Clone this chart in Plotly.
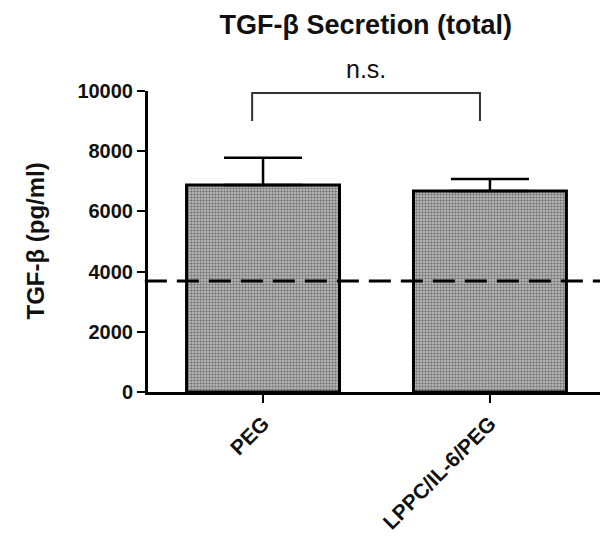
import plotly.graph_objects as go

categories = ["PEG", "LPPC/IL-6/PEG"]
means = [6880, 6680]
sd_upper = [900, 400]
baseline = 3690
y_ticks = [0, 2000, 4000, 6000, 8000, 10000]
sig_label = "n.s."

FONT = "Liberation Sans, Arial, sans-serif"
xpos = list(range(len(categories)))

fig = go.Figure()
fig.add_trace(go.Bar(
    x=xpos, y=means, width=0.674,
    marker=dict(
        color="#a8a8a8",
        line=dict(color="black", width=3),
        pattern=dict(shape=".", fgcolor="#2e2e2e", bgcolor="#c2c2c2", size=3, solidity=0.5),
    ),
    error_y=dict(type="data", symmetric=False, array=sd_upper, arrayminus=[0] * len(means),
                 color="black", thickness=2.5, width=39),
    showlegend=False,
))

fig.add_shape(type="line", xref="paper", yref="y", x0=-0.007, x1=1.0, y0=baseline, y1=baseline,
              line=dict(color="black", width=3, dash="22px,10px"), layer="above")

# significance bracket
bx0, bx1 = -0.048, 0.956
fig.add_shape(type="path", xref="x", yref="paper",
              path=f"M {bx0} 0.9003 L {bx0} 0.9934 L {bx1} 0.9934 L {bx1} 0.9003",
              line=dict(color="#333333", width=2))
fig.add_annotation(x=(bx0 + bx1) / 2, xref="x", y=1.073, yref="paper", text=sig_label,
                   showarrow=False, font=dict(family=FONT, size=25, color="#111"),
                   xanchor="center", yanchor="middle")

fig.add_annotation(x=-0.25, xref="paper", y=0.5, yref="paper", text="<b>TGF-β (pg/ml)</b>",
                   textangle=-90, showarrow=False, font=dict(family=FONT, size=24, color="#111"),
                   xanchor="center", yanchor="middle")

fig.update_layout(
    width=600, height=539,
    margin=dict(l=148, r=0, t=91, b=147),
    paper_bgcolor="white", plot_bgcolor="white",
    title=dict(text="<b>TGF-β Secretion (total)</b>", x=0.482, xref="paper", xanchor="center",
               y=1 - 25 / 539, yref="container", yanchor="middle",
               font=dict(family=FONT, size=27, color="#111")),
    xaxis=dict(range=[-0.507, 1.485], tickvals=xpos, ticktext=[f"<b>{c}</b>" for c in categories],
               tickangle=-45, ticks="outside", ticklen=8, tickwidth=2, tickcolor="black",
               showline=True, linewidth=3, linecolor="black", showgrid=False, zeroline=False,
               tickfont=dict(family=FONT, size=21, color="#111"), automargin=False),
    yaxis=dict(range=[0, 10000], tickvals=y_ticks, ticktext=[f"<b>{v}</b>" for v in y_ticks],
               ticks="outside", ticklen=8, tickwidth=2, tickcolor="black",
               showline=True, linewidth=3, linecolor="black", showgrid=False, zeroline=False,
               tickfont=dict(family=FONT, size=20, color="#111"), automargin=False),
)

fig.write_html("out.html")
